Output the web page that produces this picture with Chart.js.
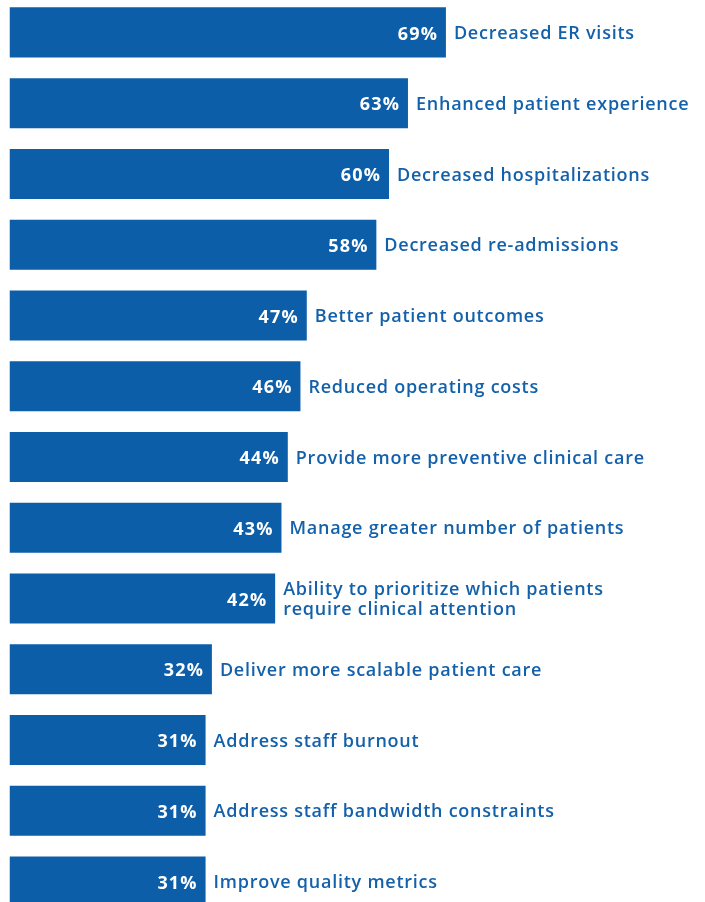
<!DOCTYPE html>
<html>
<head>
<meta charset="utf-8">
<script src="https://cdn.jsdelivr.net/npm/chart.js@4"></script>
<style>
  html, body { margin: 0; padding: 0; background: #fff; overflow: hidden; }
  #wrap { position: absolute; left: 0; top: -3px; width: 705px; height: 920px; }
</style>
</head>
<body>
<div id="wrap"><canvas id="benefitsChart"></canvas></div>
<script>
    const categories = [
        ['Decreased ER visits'],
        ['Enhanced patient experience'],
        ['Decreased hospitalizations'],
        ['Decreased re-admissions'],
        ['Better patient outcomes'],
        ['Reduced operating costs'],
        ['Provide more preventive clinical care'],
        ['Manage greater number of patients'],
        ['Ability to prioritize which patients', 'require clinical attention'],
        ['Deliver more scalable patient care'],
        ['Address staff burnout'],
        ['Address staff bandwidth constraints'],
        ['Improve quality metrics']
    ];
    const percentages = [69, 63, 60, 58, 47, 46, 44, 43, 42, 32, 31, 31, 31];

    const barBlue = '#0d5ea8';
    const textBlue = '#1461ab';
    const fontFamily = '"Open Sans", "Noto Sans", sans-serif';

    // Draws the percentage inside each bar and the category text after it
    const barLabels = {
        id: 'barLabels',
        afterDatasetsDraw(chart) {
            const ctx = chart.ctx;
            const meta = chart.getDatasetMeta(0);
            ctx.save();
            ctx.textBaseline = 'middle';
            meta.data.forEach((bar, i) => {
                ctx.font = '700 18px ' + fontFamily;
                ctx.letterSpacing = '1.2px';
                ctx.fillStyle = '#ffffff';
                ctx.textAlign = 'right';
                ctx.fillText(percentages[i] + '%', bar.x - 7.8, bar.y + 2);

                ctx.font = '600 18px ' + fontFamily;
                ctx.letterSpacing = '0.75px';
                ctx.fillStyle = textBlue;
                ctx.textAlign = 'left';
                const lines = categories[i];
                const lineHeight = 20.5;
                lines.forEach((line, j) => {
                    const dy = (j - (lines.length - 1) / 2) * lineHeight;
                    ctx.fillText(line, bar.x + 8, bar.y + dy + 1.5);
                });
            });
            ctx.restore();
        }
    };

    new Chart(document.getElementById('benefitsChart'), {
        type: 'bar',
        data: {
            labels: categories.map(c => c.join(' ')),
            datasets: [{
                data: percentages,
                backgroundColor: barBlue,
                borderWidth: 0,
                categoryPercentage: 1,
                barPercentage: 0.707
            }]
        },
        options: {
            indexAxis: 'y',
            responsive: true,
            maintainAspectRatio: false,
            animation: false,
            layout: { padding: { left: 9.5, right: 63, top: 0, bottom: 0 } },
            plugins: {
                legend: { display: false },
                tooltip: { enabled: false }
            },
            scales: {
                x: { min: 0, max: 100, display: false },
                y: { display: false }
            }
        },
        plugins: [barLabels]
    });
</script>
</body>
</html>
